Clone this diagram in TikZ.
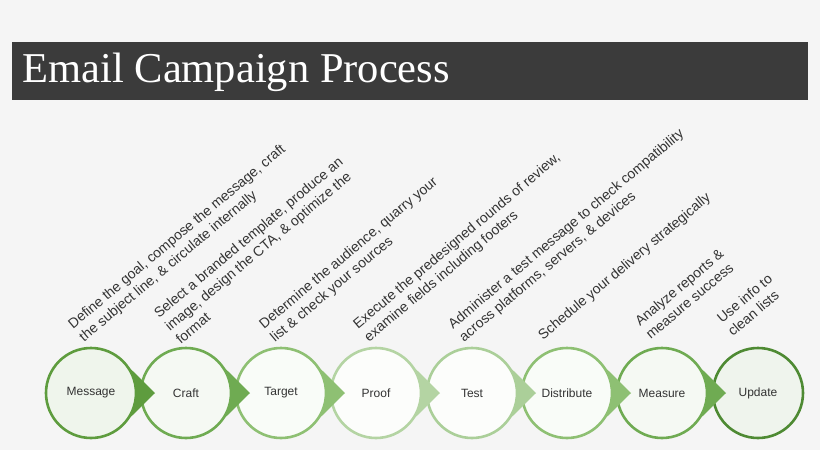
\documentclass[tikz,border=0pt]{standalone}
\usepackage{fontspec}
\usetikzlibrary{calc}
\setmainfont{Liberation Sans}
\newfontfamily\titlefont{Liberation Serif}
\begin{document}
\begin{tikzpicture}[x=1pt,y=-1pt,
  stepcirc/.style={circle,minimum size=90pt,inner sep=0,line width=2.6pt,font=\fontsize{12}{14}\selectfont,text=black!80},
  desc/.style={anchor=south west,inner sep=0,rotate=40,align=left,text=black!80,font=\fontsize{14}{17}\selectfont}]
\useasboundingbox (0,0) rectangle (820,450);
\fill[black!4] (0,0) rectangle (820,450);
\fill[black!77] (12,42) rectangle (808,100);
\node[anchor=west,text=white,font=\titlefont\fontsize{42.5}{44}\selectfont] (title) at (19,72) {Email Campaign Process};
\definecolor{c1}{HTML}{5E9C3E}
\definecolor{c2}{HTML}{6FAB52}
\definecolor{c3}{HTML}{8EC073}
\definecolor{c4}{HTML}{B4D4A3}
\definecolor{c5}{HTML}{ABCF99}
\definecolor{c6}{HTML}{8EC073}
\definecolor{c7}{HTML}{6FAB52}
\definecolor{c8}{HTML}{4E8A33}
\foreach \i/\x/\t/\c/\f in {1/91/Message/c1/10,2/186/Craft/c2/7,3/281/Target/c3/5,4/376/Proof/c4/4,5/472/Test/c5/4,6/567/Distribute/c6/5,7/662/Measure/c7/7,8/758/Update/c8/9}{
  \node[stepcirc,draw=\c,fill=\c!\f!white] (s\i) at (\x,393) {\t};
}
\foreach \i/\x/\c in {1/91/c1,2/186/c2,3/281/c3,4/376/c4,5/472/c5,6/567/c6,7/662/c7}{
  \fill[\c] (\x+64,393) -- ($(s\i.center)+(-45.3:45)$) arc[start angle=-45.3,end angle=45.3,radius=45] -- cycle;
}
\node[desc] (d1) at (86,345) {Define the goal, compose the message, craft\\the subject line, \& circulate internally};
\node[desc] (d2) at (181,345) {Select a branded template, produce an\\image, design the CTA, \& optimize the\\format};
\node[desc] (d3) at (277,345) {Determine the audience, quarry your\\list \& check your sources};
\node[desc] (d4) at (371,345) {Execute the predesigned rounds of review,\\examine fields including footers};
\node[desc] (d5) at (466,345) {Administer a test message to check compatibility\\across platforms, servers, \& devices};
\node[desc] (d6) at (545,343) {Schedule your delivery strategically};
\node[desc] (d7) at (651,340) {Analyze reports \&\\measure success};
\node[desc] (d8) at (733,337) {Use info to\\clean lists};
\end{tikzpicture}
\end{document}
